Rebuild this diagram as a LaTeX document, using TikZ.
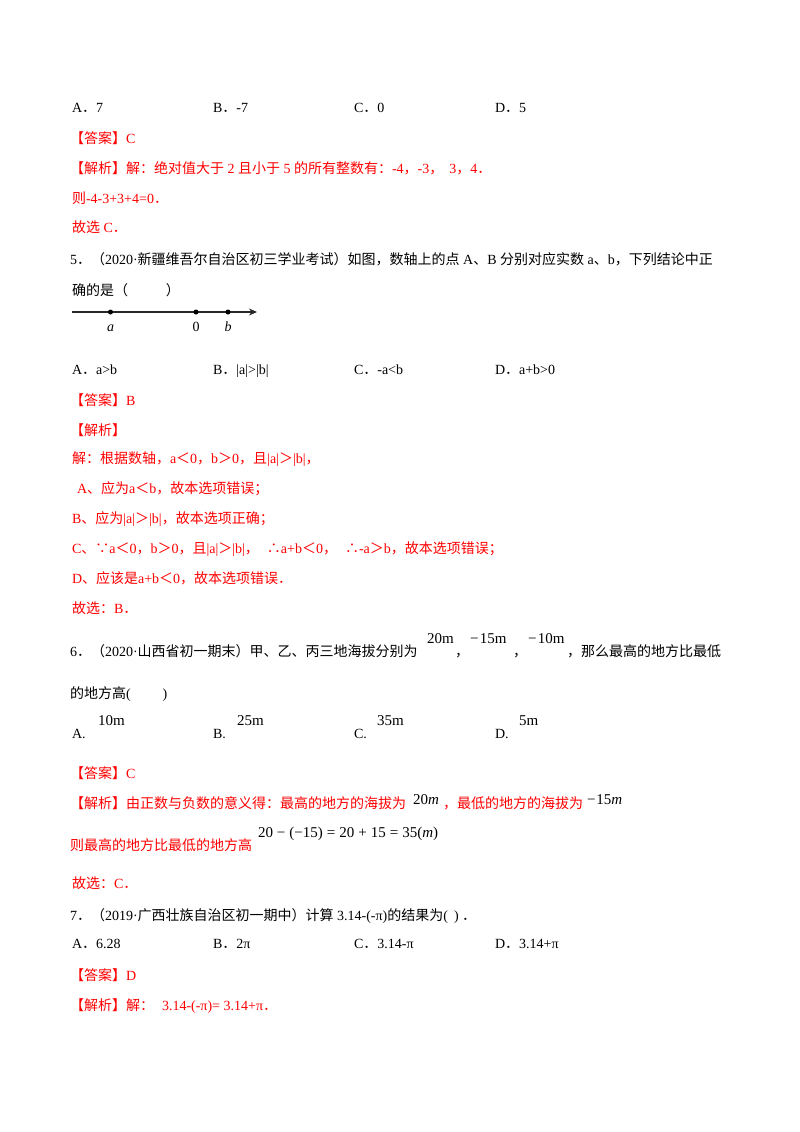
\documentclass[tikz,border=0pt]{standalone}
\usepackage{fontspec}
\setmainfont{Liberation Serif}
\newfontfamily\cjk{Noto Sans CJK SC}
\newcommand\zh[1]{{\cjk #1}}
\newcommand\fp{\zh{．}}
\usetikzlibrary{arrows.meta}
\definecolor{ansred}{RGB}{255,0,0}
\definecolor{axgray}{RGB}{40,40,40}
\tikzset{
  txt/.style={anchor=base west, inner sep=0pt, outer sep=0pt, font=\fontsize{14}{16}\selectfont},
  tr/.style={txt, text=ansred},
  mth/.style={anchor=base west, inner sep=0pt, outer sep=0pt, font=\fontsize{15}{17}\selectfont},
  lbl/.style={anchor=base, inner sep=0pt, outer sep=0pt, font=\fontsize{14}{16}\selectfont},
  axdot/.style={circle, fill=black, inner sep=0pt, minimum size=5pt},
  axline/.style={line width=1.5pt, draw=axgray, -{Stealth[length=8pt,width=7pt]}}
}
\begin{document}
\begin{tikzpicture}[x=1pt,y=-1pt]
\fill[white] (0,0) rectangle (800,1132);
\useasboundingbox (0,0) rectangle (800,1132);
% ---- Q4 tail
\node[txt] (q4a) at (72,112) {A\fp 7};
\node[txt] (q4b) at (213,112) {B\fp -7};
\node[txt] (q4c) at (354,112) {C\fp 0};
\node[txt] (q4d) at (495,112) {D\fp 5};
\node[tr] (a4) at (70,143) {\zh{【答案】}C};
\node[tr] (j4) at (70,173) {\zh{【解析】解：绝对值大于} 2 \zh{且小于} 5 \zh{的所有整数有：}-4\zh{，}-3\zh{，}\hspace{6pt}3\zh{，}4\fp};
\node[tr] (j4b) at (72,203) {\zh{则}-4-3+3+4=0\fp};
\node[tr] (j4c) at (72,232) {\zh{故选} C\fp};
% ---- Q5
\node[txt] (q5) at (70,264) {5\zh{．（}2020·\zh{新疆维吾尔自治区初三学业考试）如图，数轴上的点} A\zh{、}B \zh{分别对应实数} a\zh{、}b\zh{，下列结论中正}};
\node[txt] (q5b) at (72,295) {\zh{确的是（}\hspace{38pt}\zh{）}};
\coordinate (ax0) at (72,312);
\coordinate (ax1) at (257,312);
\draw[axline] (ax0) -- (ax1);
\node[axdot] (pa) at (110.5,312) {};
\node[axdot] (po) at (196,312) {};
\node[axdot] (pb) at (228,312) {};
\node[lbl] (la) at (110.5,331) {\textit{a}};
\node[lbl] (lo) at (196,331) {0};
\node[lbl] (lb) at (228,331) {\textit{b}};
\node[txt] (q5oa) at (72,374) {A\fp a>b};
\node[txt] (q5ob) at (213,374) {B\fp |a|>|b|};
\node[txt] (q5oc) at (354,374) {C\fp -a<b};
\node[txt] (q5od) at (495,374) {D\fp a+b>0};
\node[tr] (a5) at (70,405) {\zh{【答案】}B};
\node[tr] (j5) at (70,435) {\zh{【解析】}};
\node[tr] (j5a) at (72,463) {\zh{解：根据数轴，}a\zh{＜}0\zh{，}b\zh{＞}0\zh{，且}|a|\zh{＞}|b|\zh{，}};
\node[tr] (j5b) at (72,493) {\hspace{5pt}A\zh{、应为}a\zh{＜}b\zh{，故本选项错误；}};
\node[tr] (j5c) at (72,523) {B\zh{、应为}|a|\zh{＞}|b|\zh{，故本选项正确；}};
\node[tr] (j5d) at (72,553) {C\zh{、∵}a\zh{＜}0\zh{，}b\zh{＞}0\zh{，且}|a|\zh{＞}|b|\zh{，}\hspace{8pt}\zh{∴}a+b\zh{＜}0\zh{，}\hspace{8pt}\zh{∴}-a\zh{＞}b\zh{，故本选项错误；}};
\node[tr] (j5e) at (72,583) {D\zh{、应该是}a+b\zh{＜}0\zh{，故本选项错误．}};
\node[tr] (j5f) at (72,613) {\zh{故选：}B\fp};
% ---- Q6
\node[txt] (q6) at (70,656) {6\zh{．（}2020·\zh{山西省初一期末）甲、乙、丙三地海拔分别为}};
\node[mth] (v20) at (427,643) {20m};
\node[txt] (c1) at (455,656) {\zh{，}};
\node[mth] (v15) at (470,643) {−\hspace{1.5pt}15m};
\node[txt] (c2) at (513,656) {\zh{，}};
\node[mth] (v10) at (528,643) {−\hspace{1.5pt}10m};
\node[txt] (q6r) at (567,656) {\zh{，那么最高的地方比最低}};
\node[txt] (q6b) at (70,698) {\zh{的地方高}(\hspace{32pt})};
\node[txt] (q6oa) at (72,738) {A.};
\node[mth] (v6a) at (98,725) {10m};
\node[txt] (q6ob) at (213,738) {B.};
\node[mth] (v6b) at (237,725) {25m};
\node[txt] (q6oc) at (354,738) {C.};
\node[mth] (v6c) at (377,725) {35m};
\node[txt] (q6od) at (495,738) {D.};
\node[mth] (v6d) at (519,725) {5m};
\node[tr] (a6) at (70,778) {\zh{【答案】}C};
\node[tr] (j6) at (70,808) {\zh{【解析】由正数与负数的意义得：最高的地方的海拔为}};
\node[mth] (v6j1) at (413,804) {20\textit{m}};
\node[tr] (j6b) at (443,808) {\zh{，最低的地方的海拔为}};
\node[mth] (v6j2) at (587,804) {−\hspace{1pt}15\textit{m}};
\node[tr] (j6c) at (70,850) {\zh{则最高的地方比最低的地方高}};
\node[mth] (f6) at (258,837) {20\hspace{4pt}−\hspace{4pt}(−15)\hspace{4pt}=\hspace{4pt}20\hspace{4pt}+\hspace{4pt}15\hspace{4pt}=\hspace{4pt}35(\textit{m})};
\node[tr] (j6d) at (72,888) {\zh{故选：}C\fp};
% ---- Q7
\node[txt] (q7) at (70,920) {7\zh{．（}2019·\zh{广西壮族自治区初一期中）计算} 3.14-(-π)\zh{的结果为}(\hspace{6pt}) \fp};
\node[txt] (q7oa) at (72,948) {A\fp 6.28};
\node[txt] (q7ob) at (213,948) {B\fp 2π};
\node[txt] (q7oc) at (354,948) {C\fp 3.14-π};
\node[txt] (q7od) at (495,948) {D\fp 3.14+π};
\node[tr] (a7) at (70,980) {\zh{【答案】}D};
\node[tr] (j7) at (70,1010) {\zh{【解析】解：}\hspace{8pt}3.14-(-π)= 3.14+π\fp};
\end{tikzpicture}
\end{document}
